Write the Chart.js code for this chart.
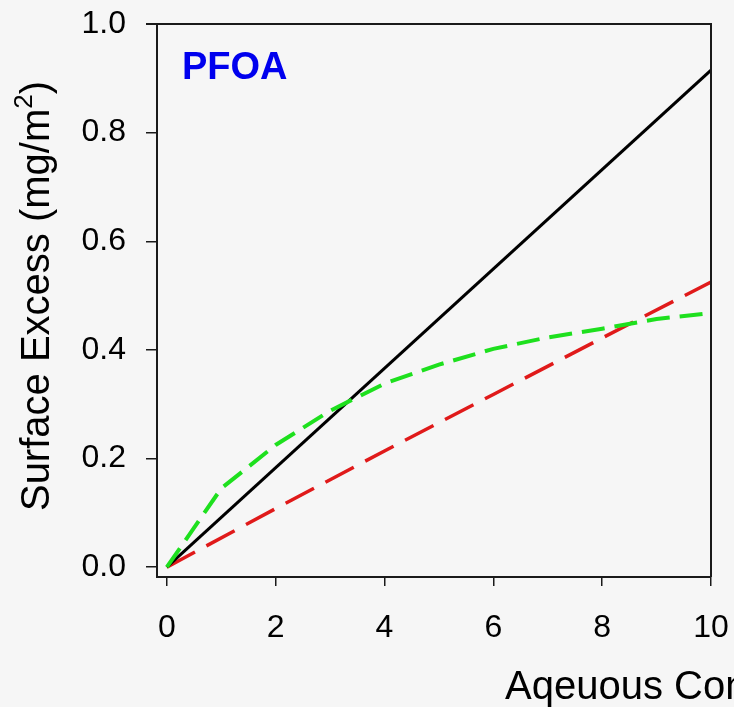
<!DOCTYPE html>
<html>
<head>
<meta charset="utf-8">
<script src="https://cdn.jsdelivr.net/npm/chart.js@4.4.1/dist/chart.umd.min.js"></script>
<style>
  html, body { margin: 0; padding: 0; background: #f6f6f6; }
  #wrap { width: 734px; height: 707px; }
</style>
</head>
<body>
<div id="wrap"><canvas id="c" width="734" height="707"></canvas></div>
<script>
// ---- data ----
const xTickValues = [0, 2, 4, 6, 8, 10];
const yTickValues = [0.0, 0.2, 0.4, 0.6, 0.8, 1.0];

const blackX = [0, 10];
const blackY = [0, 0.915];

const redX = [0, 2, 4, 6, 8, 10];
const redY = [0, 0.108, 0.214, 0.318, 0.422, 0.525];

const greenX = [0, 1, 2, 3, 4, 5, 6, 7, 8, 9, 10];
const greenY = [0, 0.145, 0.225, 0.288, 0.338, 0.373, 0.402, 0.423, 0.439, 0.457, 0.468];

const panelLabel = 'PFOA';
const xTitle = 'Aqeuous Concentration (mg/L)';
const yTitleMain = 'Surface Excess (mg/m';
const yTitleSup = '2';
const yTitleEnd = ')';

const toPts = (xs, ys) => xs.map((x, i) => ({ x: x, y: ys[i] }));

const FONT = "'Liberation Sans', Arial, sans-serif";

const framePlugin = {
  id: 'frame',
  afterDraw(chart) {
    const { ctx, chartArea: a } = chart;
    ctx.save();
    ctx.strokeStyle = '#1a1a1a';
    ctx.lineWidth = 2;
    ctx.beginPath();
    ctx.moveTo(a.left - 11, a.top);
    ctx.lineTo(a.right, a.top);
    ctx.lineTo(a.right, a.bottom);
    ctx.stroke();

    // panel label
    ctx.fillStyle = '#0000ee';
    ctx.font = 'bold 38px ' + FONT;
    ctx.textBaseline = 'alphabetic';
    ctx.textAlign = 'left';
    ctx.fillText(panelLabel, 182, 79);

    // x axis title (cut off at the right edge like the reference)
    ctx.fillStyle = '#000';
    ctx.font = '40px ' + FONT;
    ctx.fillText(xTitle, 505, 699);

    // y axis title, rotated, with superscript
    const mainFont = '40px ' + FONT;
    const supFont = '26px ' + FONT;
    ctx.font = mainFont;
    const w1 = ctx.measureText(yTitleMain).width;
    const w3 = ctx.measureText(yTitleEnd).width;
    ctx.font = supFont;
    const w2 = ctx.measureText(yTitleSup).width;
    const total = w1 + w2 + w3;
    const centerY = 296;
    const baseX = 49;
    ctx.translate(baseX, centerY);
    ctx.rotate(-Math.PI / 2);
    let s = -total / 2;
    ctx.font = mainFont;
    ctx.fillText(yTitleMain, s, 0);
    s += w1;
    ctx.font = supFont;
    ctx.fillText(yTitleSup, s, -17);
    s += w2;
    ctx.font = mainFont;
    ctx.fillText(yTitleEnd, s, 0);
    ctx.restore();
  }
};

new Chart(document.getElementById('c'), {
  type: 'scatter',
  data: {
    datasets: [
      {
        label: 'black',
        data: toPts(blackX, blackY),
        showLine: true,
        borderColor: '#000000',
        borderWidth: 3,
        pointRadius: 0,
        tension: 0,
        order: 1
      },
      {
        label: 'red',
        data: toPts(redX, redY),
        showLine: true,
        borderColor: '#e01a1a',
        borderWidth: 3.5,
        borderDash: [32, 13],
        pointRadius: 0,
        tension: 0,
        order: 2
      },
      {
        label: 'green',
        data: toPts(greenX, greenY),
        showLine: true,
        borderColor: '#1ee01e',
        borderWidth: 4,
        borderDash: [23, 10],
        pointRadius: 0,
        tension: 0,
        order: 0
      }
    ]
  },
  options: {
    responsive: false,
    animation: false,
    events: [],
    layout: { padding: { top: 24, right: 23, left: 0, bottom: 0 } },
    plugins: { legend: { display: false }, tooltip: { enabled: false } },
    scales: {
      x: {
        type: 'linear',
        min: -0.18,
        max: 10,
        afterBuildTicks(scale) { scale.ticks = xTickValues.map(v => ({ value: v })); },
        afterFit(scale) { scale.height = 130; scale.paddingLeft = 0; scale.paddingRight = 0; },
        grid: { drawOnChartArea: false, drawTicks: true, tickLength: 9, color: '#1a1a1a', lineWidth: 1.5 },
        border: { display: true, color: '#1a1a1a', width: 2 },
        ticks: {
          color: '#000',
          font: { family: FONT, size: 32 },
          padding: 23,
          maxRotation: 0,
          autoSkip: false,
          callback: v => String(v)
        },
        title: { display: false }
      },
      y: {
        type: 'linear',
        min: -0.018,
        max: 1.0,
        afterBuildTicks(scale) { scale.ticks = yTickValues.map(v => ({ value: v })); },
        afterFit(scale) { scale.width = 157; scale.paddingTop = 0; scale.paddingBottom = 0; },
        grid: { drawOnChartArea: false, drawTicks: true, tickLength: 11, color: '#1a1a1a', lineWidth: 1.5 },
        border: { display: true, color: '#1a1a1a', width: 2 },
        ticks: {
          color: '#000',
          font: { family: FONT, size: 32 },
          padding: 20,
          autoSkip: false,
          callback: v => Number(v).toFixed(1)
        },
        title: { display: false }
      }
    }
  },
  plugins: [framePlugin]
});
</script>
</body>
</html>
